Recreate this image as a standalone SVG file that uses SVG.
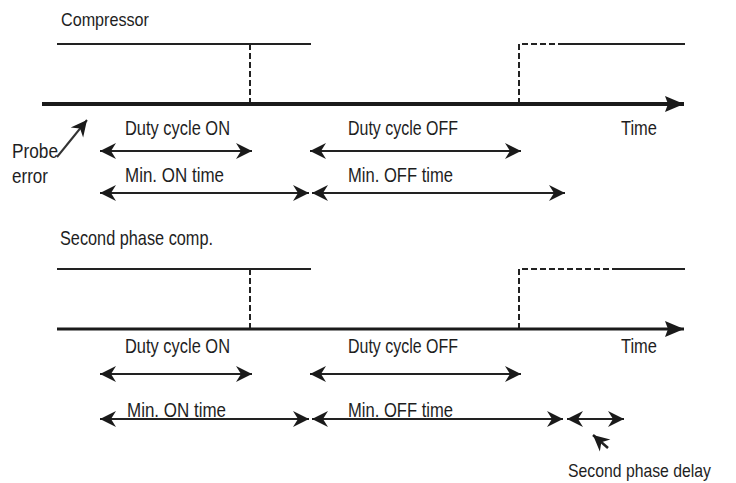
<svg xmlns="http://www.w3.org/2000/svg" width="736" height="483" viewBox="0 0 736 483">
<style>
  text { font-family: "Liberation Sans", Arial, sans-serif; fill: #1e1e1e; }
  .lbl { font-size: 21px; }
  .sig { stroke: #222; stroke-width: 2; fill: none; }
  .dash { stroke: #222; stroke-width: 2; fill: none; stroke-dasharray: 6 3; }
  .axis { stroke: #1a1a1a; fill: none; }
  .dim { stroke: #222; stroke-width: 2; fill: none; marker-end: url(#ah); marker-start: url(#ah); }
</style>
<defs>
  <marker id="ah" markerUnits="userSpaceOnUse" viewBox="-18 -9 20 18" refX="0" refY="0" markerWidth="20" markerHeight="18" orient="auto-start-reverse">
    <path d="M0,0 L-16,-8 L-11,0 L-16,8 Z" fill="#1a1a1a"/>
  </marker>
  <marker id="axh" markerUnits="userSpaceOnUse" viewBox="-20 -9 22 18" refX="0" refY="0" markerWidth="22" markerHeight="18" orient="auto">
    <path d="M0,0 L-19,-8 L-16,0 L-19,8 Z" fill="#1a1a1a"/>
  </marker>
  <marker id="ph" markerUnits="userSpaceOnUse" viewBox="-18 -9 20 18" refX="0" refY="0" markerWidth="20" markerHeight="18" orient="auto">
    <path d="M0,0 L-16,-8 L-11,0 L-16,8 Z" fill="#1a1a1a"/>
  </marker>
</defs>

<g id="compressor-plot">
  <text x="61" y="26" style="font-size:19px" textLength="88" lengthAdjust="spacingAndGlyphs">Compressor</text>
  <line class="sig" x1="57" y1="44" x2="311" y2="44"/>
  <line class="dash" x1="250" y1="44" x2="250" y2="104"/>
  <path class="dash" d="M519,104 L519,44 L563,44"/>
  <line class="sig" x1="563" y1="44" x2="685" y2="44"/>
  <line class="axis" x1="42" y1="104" x2="684" y2="104" stroke-width="4" marker-end="url(#axh)"/>
  <text class="lbl" x="621" y="135" textLength="36" lengthAdjust="spacingAndGlyphs">Time</text>
</g>

<g id="probe-error">
  <text class="lbl" x="12" y="158" textLength="46" lengthAdjust="spacingAndGlyphs">Probe</text>
  <text class="lbl" x="12" y="183" textLength="36" lengthAdjust="spacingAndGlyphs">error</text>
</g>

<g id="duty-on-1">
  <text class="lbl" x="125" y="135" textLength="105" lengthAdjust="spacingAndGlyphs">Duty cycle ON</text>
</g>
<g id="duty-off-1">
  <text class="lbl" x="348" y="135" textLength="110" lengthAdjust="spacingAndGlyphs">Duty cycle OFF</text>
</g>
<g id="min-on-1">
  <text class="lbl" x="125" y="182" textLength="99" lengthAdjust="spacingAndGlyphs">Min. ON time</text>
</g>
<g id="min-off-1">
  <text class="lbl" x="348" y="182" textLength="105" lengthAdjust="spacingAndGlyphs">Min. OFF time</text>
</g>

<g id="second-phase-plot">
  <text class="lbl" x="60" y="245" textLength="153" lengthAdjust="spacingAndGlyphs">Second phase comp.</text>
  <line class="sig" x1="57" y1="269" x2="311" y2="269"/>
  <line class="dash" x1="250" y1="269" x2="250" y2="329"/>
  <path class="dash" d="M519,329 L519,269 L618,269"/>
  <line class="sig" x1="618" y1="269" x2="685" y2="269"/>
  <line class="axis" x1="57" y1="329" x2="684" y2="329" stroke-width="3" marker-end="url(#axh)"/>
  <text class="lbl" x="621" y="353" textLength="36" lengthAdjust="spacingAndGlyphs">Time</text>
</g>

<g id="duty-on-2">
  <text class="lbl" x="125" y="353" textLength="105" lengthAdjust="spacingAndGlyphs">Duty cycle ON</text>
</g>
<g id="duty-off-2">
  <text class="lbl" x="348" y="353" textLength="110" lengthAdjust="spacingAndGlyphs">Duty cycle OFF</text>
</g>
<g id="min-on-2">
  <text class="lbl" x="127" y="417" textLength="99" lengthAdjust="spacingAndGlyphs">Min. ON time</text>
</g>
<g id="min-off-2">
  <text class="lbl" x="348" y="417" textLength="105" lengthAdjust="spacingAndGlyphs">Min. OFF time</text>
</g>
<g id="second-phase-delay">
  <text x="568" y="477" style="font-size:18.5px" textLength="143" lengthAdjust="spacingAndGlyphs">Second phase delay</text>
</g>

<g id="connectors">
  <line class="dim" x1="100" y1="151" x2="252" y2="151"/>
  <line class="dim" x1="310" y1="151" x2="521" y2="151"/>
  <line class="dim" x1="100" y1="193" x2="309" y2="193"/>
  <line class="dim" x1="312" y1="193" x2="565" y2="193"/>
  <line x1="57" y1="157" x2="87" y2="120" stroke="#333" stroke-width="2" marker-end="url(#ph)"/>

  <line class="dim" x1="100" y1="374" x2="252" y2="374"/>
  <line class="dim" x1="310" y1="374" x2="521" y2="374"/>
  <line class="dim" x1="100" y1="419" x2="309" y2="419"/>
  <line class="dim" x1="312" y1="419" x2="563" y2="419"/>
  <line class="dim" x1="567" y1="419" x2="624" y2="419"/>
  <line x1="608" y1="448" x2="593" y2="435" stroke="#222" stroke-width="2.5" marker-end="url(#ph)"/>
</g>
</svg>
